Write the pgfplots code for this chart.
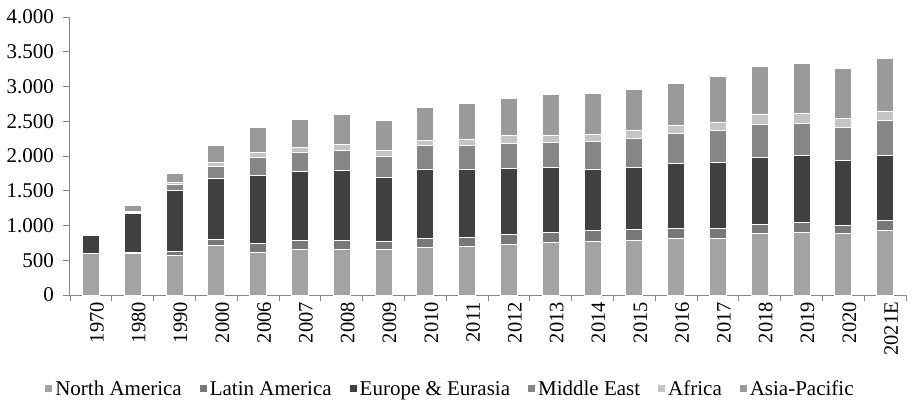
\documentclass[border=0pt]{standalone}
\usepackage{fontspec}
\setmainfont{Liberation Serif}
\usepackage{pgfplots}
\usepackage{pgfplotstable}
\pgfplotsset{compat=1.18}

\definecolor{cNA}{HTML}{A3A3A3}
\definecolor{cLA}{HTML}{787878}
\definecolor{cEU}{HTML}{404040}
\definecolor{cME}{HTML}{868686}
\definecolor{cAF}{HTML}{C4C4C4}
\definecolor{cAP}{HTML}{9A9A9A}
\definecolor{axisgray}{HTML}{868686}

% natural gas by region
\pgfplotstableread{
x  NA  LA   EU   ME   AF   AP
0  590 10   249  0    0    0
1  590 19   566  19   10   86
2  575 58   868  82   33   139
3  719 82   873  172  63   249
4  614 129  974  264  67   369
5  657 134  988  269  77   398
6  657 134  1003 283  91   422
7  657 120  916  297  82   446
8  686 129  993  336  86   475
9  695 135  978  341  91   522
10 729 144  945  359  111  546
11 758 144  935  355  105  581
12 777 144  887  398  106  594
13 791 154  892  417  120  590
14 820 139  935  432  115  609
15 806 153  950  456  124  648
16 878 139  964  475  134  705
17 906 144  960  460  144  724
18 878 124  936  475  129  724
19 921 144  945  503  134  749
}\gasdata

\begin{document}
\begin{tikzpicture}[font=\fontsize{20}{24}\selectfont]
\begin{axis}[
    scale only axis,
    width=836pt, height=278pt,
    ybar stacked,
    bar width=17pt,
    xmin=-0.5, xmax=19.5,
    ymin=0, ymax=4000,
    ytick={0,500,...,4000},
    xtick=data,
    xticklabels={1970,1980,1990,2000,2006,2007,2008,2009,2010,2011,2012,2013,2014,2015,2016,2017,2018,2019,2020,2021E},
    minor xtick={-0.5,0.5,...,19.5},
    major x tick style={draw=none},
    minor tick length=6pt,
    major tick length=7pt,
    tick align=outside,
    axis x line*=bottom,
    axis y line*=left,
    axis line style={axisgray, line width=1pt},
    tick style={axisgray, line width=0.8pt},
    xticklabel style={rotate=90, anchor=east, inner sep=0pt, yshift=-6pt,
        font=\fontsize{20.5}{24}\selectfont},
    yticklabel style={inner sep=0pt, xshift=-9pt,
        font=\fontsize{21}{24}\selectfont},
    /pgf/number format/.cd, fixed, 1000 sep={.}, assume math mode=true,
    /pgfplots/.cd,
    every axis plot/.append style={draw=white, line width=1pt},
    legend columns=-1,
    legend style={
        at={(axis description cs:0.4545,-0.338)}, anchor=center,
        draw=none, fill=none,
        font=\fontsize{21}{24}\selectfont,
        /tikz/every even column/.append style={column sep=15pt},
    },
    legend image code/.code={\fill[#1] (0pt,-4pt) rectangle (8pt,4pt);},
]
\addplot[fill=cNA] table[x=x, y=NA] {\gasdata};
\addlegendentry{North America}
\addplot[fill=cLA] table[x=x, y=LA] {\gasdata};
\addlegendentry{Latin America}
\addplot[fill=cEU] table[x=x, y=EU] {\gasdata};
\addlegendentry{Europe \& Eurasia}
\addplot[fill=cME] table[x=x, y=ME] {\gasdata};
\addlegendentry{Middle East}
\addplot[fill=cAF] table[x=x, y=AF] {\gasdata};
\addlegendentry{Africa}
\addplot[fill=cAP] table[x=x, y=AP] {\gasdata};
\addlegendentry{Asia-Pacific}
\end{axis}
\pgfresetboundingbox
\path (-70pt,-118pt) rectangle (846pt,295pt);
\end{tikzpicture}
\end{document}
